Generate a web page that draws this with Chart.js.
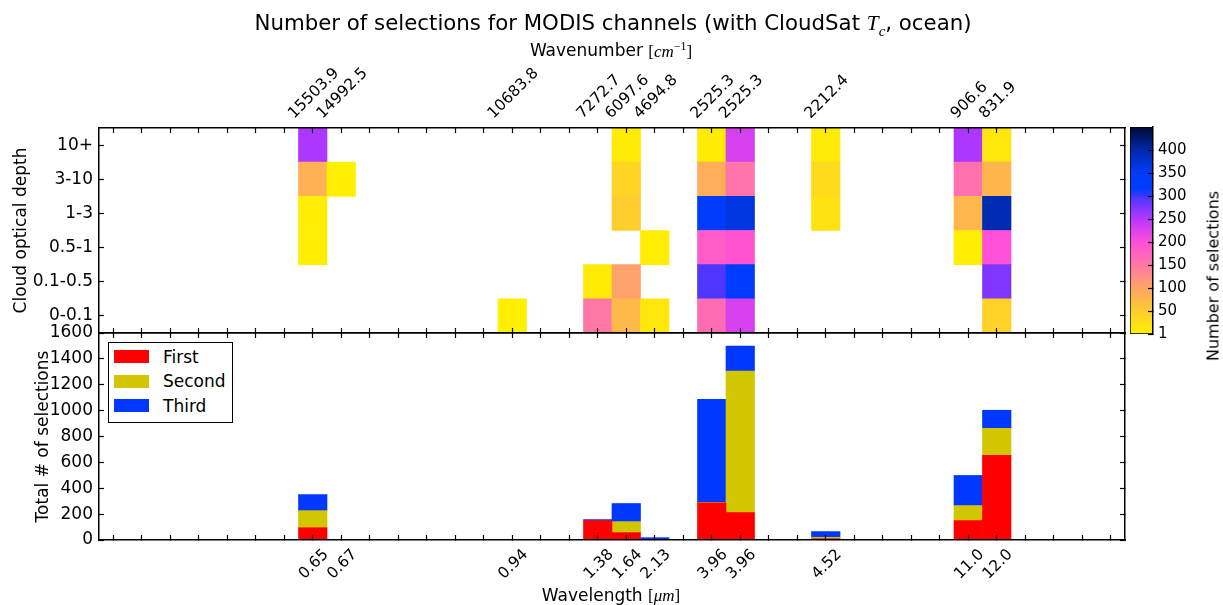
<!DOCTYPE html>
<html>
<head>
<meta charset="utf-8">
<title>MODIS channel selections</title>
<script src="https://cdn.jsdelivr.net/npm/chart.js@4.4.1/dist/chart.umd.min.js"></script>
<style>
  body { margin: 0; background: #fff; font-family: "DejaVu Sans", sans-serif; color: #000; }
  #page { position: relative; width: 1223px; height: 605px; overflow: hidden; }
  #page canvas { position: absolute; left: 0; top: 0; }
  .txt { position: absolute; white-space: nowrap; transform: translate(-50%, -50%); }
  .math { font-family: "Liberation Serif", serif; }
  .math i { font-style: italic; }
  .math sub, .math sup { font-size: 70%; }
  #cbTitle { transform: translate(-50%, -50%) rotate(-90deg); }
  #legend { position: absolute; left: 108px; top: 342px; width: 125px; height: 81px; border: 1px solid #000; box-sizing: border-box; background: #fff; font-size: 17px; }
  #legend .item { position: absolute; left: 5px; height: 13px; }
  #legend .sw { position: absolute; left: 0; top: 0; width: 35px; height: 13px; }
  #legend .lb { position: absolute; left: 49px; top: 50%; transform: translateY(-50%); white-space: nowrap; }
</style>
</head>
<body>
<div id="page">
  <canvas id="heat" width="1223" height="605"></canvas>
  <canvas id="bars" width="1223" height="605"></canvas>
  <canvas id="cbar" width="1223" height="605"></canvas>
  <div class="txt" style="left:613px; top:25px; font-size:21.3px;">Number of selections for MODIS channels (with CloudSat <span class="math"><i>T</i><sub><i>c</i></sub></span>, ocean)</div>
  <div class="txt" style="left:611px; top:50px; font-size:17px;">Wavenumber <span class="math">[<i>cm</i><sup>−1</sup>]</span></div>
  <div class="txt" style="left:611px; top:595px; font-size:17px;">Wavelength <span class="math">[<i>μm</i>]</span></div>
  <div class="txt" id="cbTitle" style="left:1213px; top:276px; font-size:16px;">Number of selections</div>
  <div id="legend"></div>
</div>

<script>
// 36 slots along the x axis, channels sit in some of them
const _ = null;
const wavelengthLabels = ['', '', '', '', '', '', '', '0.65', '0.67', '',
  '', '', '', '', '0.94', '', '', '1.38', '1.64', '2.13',
  '', '3.96', '3.96', '', '', '4.52', '', '', '', '',
  '11.0', '12.0', '', '', '', ''];
const wavenumberLabels = ['', '', '', '', '', '', '', '15503.9', '14992.5', '',
  '', '', '', '', '10683.8', '', '', '7272.7', '6097.6', '4694.8',
  '', '2525.3', '2525.3', '', '', '2212.4', '', '', '', '',
  '906.6', '831.9', '', '', '', ''];

// cloud optical depth bins, bottom to top
const depthBins = ['0-0.1', '0.1-0.5', '0.5-1', '1-3', '3-10', '10+'];

// number of selections per bin and slot (heatmap)
const depth0to01   = [_,_,_,_,_,_,_,_,_,_, _,_,_,_,3,_,_,150,75,13, _,165,230,_,_,_,_,_,_,_, _,45,_,_,_,_];
const depth01to05  = [_,_,_,_,_,_,_,_,_,_, _,_,_,_,_,_,_,8,105,_, _,295,325,_,_,_,_,_,_,_, _,275,_,_,_,_];
const depth05to1   = [_,_,_,_,_,_,_,5,_,_, _,_,_,_,_,_,_,_,_,5, _,185,195,_,_,_,_,_,_,_, 5,200,_,_,_,_];
const depth1to3    = [_,_,_,_,_,_,_,5,_,_, _,_,_,_,_,_,_,_,50,_, _,340,365,_,_,20,_,_,_,_, 79,395,_,_,_,_];
const depth3to10   = [_,_,_,_,_,_,_,85,3,_, _,_,_,_,_,_,_,_,40,_, _,90,155,_,_,30,_,_,_,_, 160,80,_,_,_,_];
const depth10plus  = [_,_,_,_,_,_,_,255,_,_, _,_,_,_,_,_,_,_,8,_, _,8,230,_,_,10,_,_,_,_, 255,15,_,_,_,_];
const depthRows = [depth0to01, depth01to05, depth05to1, depth1to3, depth3to10, depth10plus];

// total selections, stacked
const firstSel  = [_,_,_,_,_,_,_,95,1,_, _,_,_,_,2,_,_,150,57,3, _,287,212,_,_,10,_,_,_,_, 150,654,_,_,_,_];
const secondSel = [_,_,_,_,_,_,_,132,1,_, _,_,_,_,_,_,_,_,85,2, _,3,1093,_,_,11,_,_,_,_, 116,209,_,_,_,_];
const thirdSel  = [_,_,_,_,_,_,_,124,1,_, _,_,_,_,1,_,_,8,140,13, _,798,194,_,_,44,_,_,_,_, 233,140,_,_,_,_];

const colorRange = [1, 450];
const colorTicks = [1, 50, 100, 150, 200, 250, 300, 350, 400];

// colour map (yellow -> pink -> purple -> blue -> navy)
const cmapStops = [
  [1, [255, 240, 0]], [50, [255, 205, 45]], [100, [255, 165, 100]], [150, [255, 120, 165]],
  [200, [255, 80, 215]], [250, [185, 55, 255]], [295, [80, 55, 255]], [315, [0, 60, 255]],
  [350, [0, 60, 250]], [400, [0, 40, 170]], [450, [0, 8, 50]]
];

function countColor(v) {
  for (let i = 1; i < cmapStops.length; i++) {
    const [v1, c1] = cmapStops[i];
    const [v0, c0] = cmapStops[i - 1];
    if (v <= v1) {
      const t = Math.max(0, (v - v0) / (v1 - v0));
      return 'rgb(' + c0.map((c, k) => Math.round(c + (c1[k] - c) * t)).join(',') + ')';
    }
  }
  return 'rgb(' + cmapStops[cmapStops.length - 1][1].join(',') + ')';
}

Chart.defaults.font.family = '"DejaVu Sans", sans-serif';
Chart.defaults.color = '#000';
Chart.defaults.animation = false;
Chart.defaults.plugins.legend.display = false;
Chart.defaults.plugins.tooltip.enabled = false;

// matplotlib style: ticks pointing inwards, drawn above the marks
const inwardGrid = () => ({ display: true, drawOnChartArea: false, drawTicks: true, tickLength: -5,
  tickColor: '#000', tickWidth: 1.2, offset: false, z: 1 });
const frame = { display: true, color: '#000', width: 1.5, z: 1 };

// rotated tick labels, centred on the tick like matplotlib
const rotatedLabels = {
  id: 'rotatedLabels',
  afterDraw(chart, args, opts) {
    const scale = chart.scales[opts.scaleId];
    const ctx = chart.ctx;
    const capH = opts.size * 0.73;
    ctx.save();
    ctx.font = opts.size + 'px "DejaVu Sans"';
    ctx.fillStyle = '#000';
    ctx.textAlign = 'center';
    ctx.textBaseline = 'alphabetic';
    opts.labels.forEach((text, i) => {
      if (!text) return;
      const half = (ctx.measureText(text).width + capH) * Math.SQRT1_2 / 2;
      const x = scale.getPixelForTick(i);
      const y = opts.side === 'top' ? scale.bottom - opts.gap - half : scale.top + opts.gap + half;
      ctx.save();
      ctx.translate(x, y);
      ctx.rotate(-Math.PI / 4);
      ctx.fillText(text, 0, capH / 2);
      ctx.restore();
    });
    ctx.restore();
  }
};

// top panel: heatmap of selections per optical depth bin
new Chart(document.getElementById('heat'), {
  type: 'bar',
  data: {
    labels: wavelengthLabels,
    datasets: depthRows.map((row, r) => ({
      label: depthBins[r],
      data: row.map(v => v == null ? null : [r, r + 1]),
      backgroundColor: row.map(v => v == null ? 'rgba(0,0,0,0)' : countColor(v)),
      grouped: false,
      barPercentage: 1,
      categoryPercentage: 1,
      borderWidth: 0
    }))
  },
  options: {
    responsive: false,
    layout: { padding: 0 },
    scales: {
      x: { type: 'category', offset: true, grid: inwardGrid(), border: frame, ticks: { display: false },
        afterFit: s => { s.height = 272; } },
      xTop: { type: 'category', position: 'top', offset: true, grid: inwardGrid(), border: frame,
        ticks: { display: false }, afterFit: s => { s.height = 128; } },
      y: { type: 'linear', min: 0, max: 6, grid: inwardGrid(), border: frame,
        afterBuildTicks: s => { s.ticks = depthBins.map((b, i) => ({ value: i + 0.5 })); },
        ticks: { padding: 11, font: { size: 17 }, callback: (v, i) => depthBins[i] },
        title: { display: true, text: 'Cloud optical depth', font: { size: 17 }, padding: { top: 11, bottom: 0 } },
        afterFit: s => { s.width = 99; } },
      y2: { type: 'linear', position: 'right', min: 0, max: 6, grid: inwardGrid(), border: frame,
        afterBuildTicks: s => { s.ticks = depthBins.map((b, i) => ({ value: i + 0.5 })); },
        ticks: { display: false }, afterFit: s => { s.width = 98; } }
    },
    plugins: {
      rotatedLabels: { scaleId: 'xTop', labels: wavenumberLabels, side: 'top', gap: 9, size: 15.5 }
    }
  },
  plugins: [rotatedLabels]
});

// bottom panel: stacked totals
const barChart = new Chart(document.getElementById('bars'), {
  type: 'bar',
  data: {
    labels: wavelengthLabels,
    datasets: [
      { label: 'First', data: firstSel, backgroundColor: '#ff0000' },
      { label: 'Second', data: secondSel, backgroundColor: '#d1c600' },
      { label: 'Third', data: thirdSel, backgroundColor: '#0038ff' }
    ]
  },
  options: {
    responsive: false,
    layout: { padding: 0 },
    datasets: { bar: { barPercentage: 1, categoryPercentage: 1, borderWidth: 0 } },
    scales: {
      x: { type: 'category', stacked: true, offset: true, grid: inwardGrid(), border: frame,
        ticks: { display: false }, afterFit: s => { s.height = 65; } },
      xTop: { type: 'category', position: 'top', offset: true, grid: inwardGrid(), border: frame,
        ticks: { display: false }, afterFit: s => { s.height = 333; } },
      y: { type: 'linear', stacked: true, min: 0, max: 1600, grid: inwardGrid(), border: frame,
        ticks: { stepSize: 200, padding: 11, font: { size: 17 }, callback: v => String(v) },
        title: { display: true, text: 'Total # of selections', font: { size: 17 }, padding: { top: 33, bottom: 0 } },
        afterFit: s => { s.width = 99; } },
      y2: { type: 'linear', position: 'right', min: 0, max: 1600, grid: inwardGrid(), border: frame,
        ticks: { stepSize: 200, display: false }, afterFit: s => { s.width = 98; } }
    },
    plugins: {
      rotatedLabels: { scaleId: 'x', labels: wavelengthLabels, side: 'bottom', gap: 7, size: 15.5 }
    }
  },
  plugins: [rotatedLabels]
});

// colour bar
new Chart(document.getElementById('cbar'), {
  type: 'bar',
  data: {
    labels: ['count'],
    datasets: [{
      data: [colorRange],
      barPercentage: 1,
      categoryPercentage: 1,
      borderWidth: 1,
      borderColor: '#000',
      borderSkipped: false,
      backgroundColor: ctx => {
        const chart = ctx.chart;
        if (!chart.chartArea) return countColor(colorRange[0]);
        const ys = chart.scales.y;
        const g = chart.ctx.createLinearGradient(0, ys.getPixelForValue(colorRange[0]), 0, ys.getPixelForValue(colorRange[1]));
        cmapStops.forEach(([v, c]) => {
          g.addColorStop((v - colorRange[0]) / (colorRange[1] - colorRange[0]), 'rgb(' + c.join(',') + ')');
        });
        return g;
      }
    }]
  },
  options: {
    responsive: false,
    layout: { padding: { left: 1130, right: 0, top: 127, bottom: 271 } },
    scales: {
      x: { display: false },
      y: { type: 'linear', position: 'right', min: colorRange[0], max: colorRange[1],
        grid: inwardGrid(), border: frame,
        afterBuildTicks: s => { s.ticks = colorTicks.map(v => ({ value: v })); },
        ticks: { padding: 10, font: { size: 15 } },
        afterFit: s => { s.width = 70; } }
    }
  }
});

// legend box from the bar datasets
const legend = document.getElementById('legend');
barChart.data.datasets.forEach((ds, i) => {
  const item = document.createElement('div');
  item.className = 'item';
  item.style.top = (7 + i * 24.5) + 'px';
  item.innerHTML = '<div class="sw" style="background:' + ds.backgroundColor + '"></div><div class="lb">' + ds.label + '</div>';
  legend.appendChild(item);
});
</script>
</body>
</html>
